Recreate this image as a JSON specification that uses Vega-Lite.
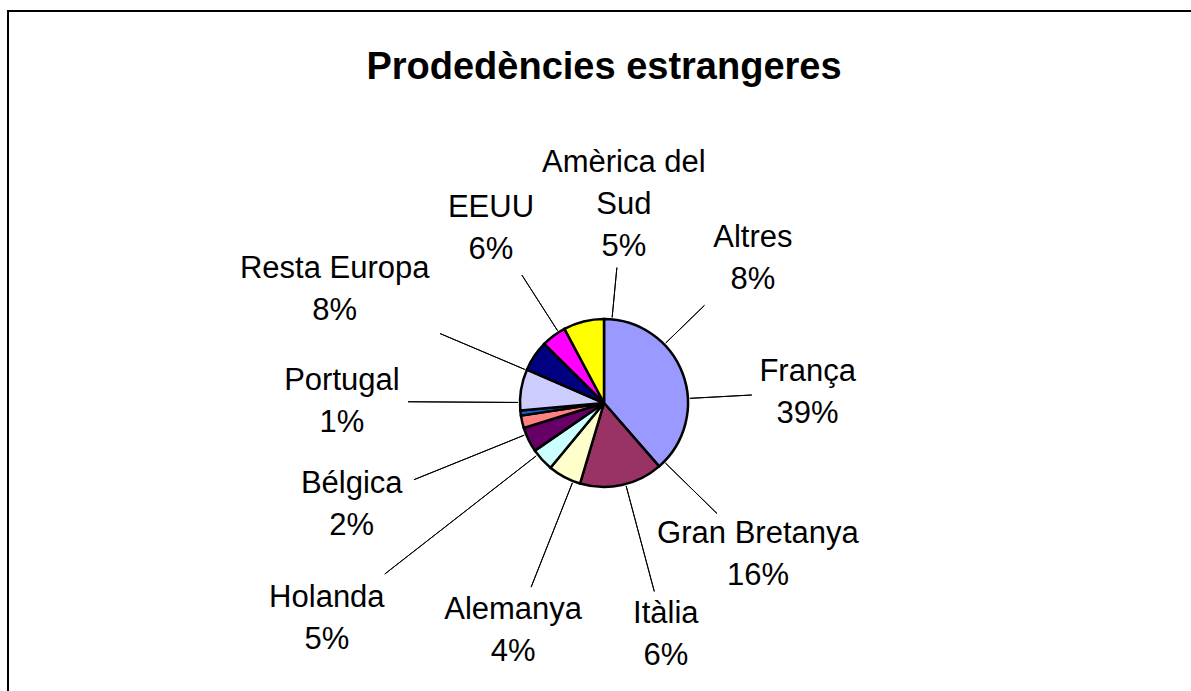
{
  "$schema": "https://vega.github.io/schema/vega-lite/v6.json",
  "autosize": {"type": "none"},
  "padding": {"left": 8, "top": 11, "right": -9, "bottom": -104},
  "width": 1192,
  "height": 784,
  "background": "white",
  "view": {"stroke": "black", "strokeWidth": 2},
  "config": {"view": {"stroke": "black", "strokeWidth": 2}, "font": "Liberation Sans"},
  "title": {"text": "Prodedències estrangeres", "fontSize": 38, "fontWeight": "bold", "font": "Liberation Sans", "color": "black", "anchor": "middle", "offset": -106, "baseline": "alphabetic"},
  "data": {"values": [
    {"name": "França", "value": 38.6},
    {"name": "Gran Bretanya", "value": 16.0},
    {"name": "Itàlia", "value": 6.4},
    {"name": "Alemanya", "value": 4.4},
    {"name": "Holanda", "value": 4.8},
    {"name": "Bélgica", "value": 2.4},
    {"name": "Portugal", "value": 1.0},
    {"name": "Resta Europa", "value": 7.9},
    {"name": "EEUU", "value": 5.9},
    {"name": "Amèrica del Sud", "value": 4.8},
    {"name": "Altres", "value": 7.8}
  ]},
  "transform": [
    {"stack": "value", "groupby": [], "offset": "normalize", "as": ["v0", "v1"]},
    {"calculate": "(datum.name == 'Amèrica del Sud' ? 'Amèrica del\\nSud' : datum.name) + '\\n' + format((datum.v1 - datum.v0) * 100, '.0f') + '%'", "as": "label"}
  ],
  "layer": [
    {
      "mark": {"type": "arc", "radius": 84, "stroke": "black", "strokeWidth": 2.5},
      "encoding": {
        "theta": {"field": "v0", "type": "quantitative", "scale": {"domain": [0, 1]}},
        "theta2": {"field": "v1"},
        "color": {"field": "name", "type": "nominal", "legend": null,
          "scale": {"domain": ["França", "Gran Bretanya", "Itàlia", "Alemanya", "Holanda", "Bélgica", "Portugal", "Resta Europa", "EEUU", "Amèrica del Sud", "Altres"],
                    "range": ["#9999FF", "#993366", "#FFFFCC", "#CCFFFF", "#660066", "#FF8080", "#0066CC", "#CCCCFF", "#000080", "#FF00FF", "#FFFF00"]}}
      }
    },
    {"transform": [{"filter": "datum.name == 'França'"}], "mark": {"type": "arc", "radius": 148, "radius2": 86, "thetaOffset": 1.5167, "theta2Offset": 1.5167, "fillOpacity": 0, "stroke": "black", "strokeWidth": 1}, "encoding": {"theta": {"field": "v0", "type": "quantitative"}, "theta2": {"field": "v0"}}},
    {"transform": [{"filter": "datum.name == 'França'"}], "mark": {"type": "text", "radius": 206, "thetaOffset": 1.419, "fontSize": 31, "lineHeight": 42, "lineBreak": "\n", "align": "center", "baseline": "middle", "color": "black"}, "encoding": {"theta": {"field": "v0", "type": "quantitative"}, "text": {"field": "label"}}},

    {"transform": [{"filter": "datum.name == 'Gran Bretanya'"}], "mark": {"type": "arc", "radius": 158, "radius2": 86, "thetaOffset": -0.0803, "theta2Offset": -0.0803, "fillOpacity": 0, "stroke": "black", "strokeWidth": 1}, "encoding": {"theta": {"field": "v0", "type": "quantitative"}, "theta2": {"field": "v0"}}},
    {"transform": [{"filter": "datum.name == 'Gran Bretanya'"}], "mark": {"type": "text", "radius": 202, "thetaOffset": -0.150, "fontSize": 31, "lineHeight": 42, "lineBreak": "\n", "align": "center", "baseline": "middle", "color": "black"}, "encoding": {"theta": {"field": "v0", "type": "quantitative"}, "text": {"field": "label"}}},

    {"transform": [{"filter": "datum.name == 'Itàlia'"}], "mark": {"type": "arc", "radius": 195, "radius2": 86, "thetaOffset": -0.5498, "theta2Offset": -0.5498, "fillOpacity": 0, "stroke": "black", "strokeWidth": 1}, "encoding": {"theta": {"field": "v0", "type": "quantitative"}, "theta2": {"field": "v0"}}},
    {"transform": [{"filter": "datum.name == 'Itàlia'"}], "mark": {"type": "text", "radius": 220, "thetaOffset": -0.574, "fontSize": 31, "lineHeight": 42, "lineBreak": "\n", "align": "center", "baseline": "middle", "color": "black"}, "encoding": {"theta": {"field": "v0", "type": "quantitative"}, "text": {"field": "label"}}},

    {"transform": [{"filter": "datum.name == 'Alemanya'"}], "mark": {"type": "arc", "radius": 198, "radius2": 86, "thetaOffset": -0.3142, "theta2Offset": -0.3142, "fillOpacity": 0, "stroke": "black", "strokeWidth": 1}, "encoding": {"theta": {"field": "v0", "type": "quantitative"}, "theta2": {"field": "v0"}}},
    {"transform": [{"filter": "datum.name == 'Alemanya'"}], "mark": {"type": "text", "radius": 226, "thetaOffset": -0.2775, "fontSize": 31, "lineHeight": 42, "lineBreak": "\n", "align": "center", "baseline": "middle", "color": "black"}, "encoding": {"theta": {"field": "v0", "type": "quantitative"}, "text": {"field": "label"}}},

    {"transform": [{"filter": "datum.name == 'Holanda'"}], "mark": {"type": "arc", "radius": 278, "radius2": 86, "thetaOffset": -0.0593, "theta2Offset": -0.0593, "fillOpacity": 0, "stroke": "black", "strokeWidth": 1}, "encoding": {"theta": {"field": "v0", "type": "quantitative"}, "theta2": {"field": "v0"}}},
    {"transform": [{"filter": "datum.name == 'Holanda'"}], "mark": {"type": "text", "radius": 339, "thetaOffset": -0.0105, "fontSize": 31, "lineHeight": 42, "lineBreak": "\n", "align": "center", "baseline": "middle", "color": "black"}, "encoding": {"theta": {"field": "v0", "type": "quantitative"}, "text": {"field": "label"}}},

    {"transform": [{"filter": "datum.name == 'Bélgica'"}], "mark": {"type": "arc", "radius": 205, "radius2": 86, "thetaOffset": -0.0820, "theta2Offset": -0.0820, "fillOpacity": 0, "stroke": "black", "strokeWidth": 1}, "encoding": {"theta": {"field": "v0", "type": "quantitative"}, "theta2": {"field": "v0"}}},
    {"transform": [{"filter": "datum.name == 'Bélgica'"}], "mark": {"type": "text", "radius": 265, "thetaOffset": -0.010, "fontSize": 31, "lineHeight": 42, "lineBreak": "\n", "align": "center", "baseline": "middle", "color": "black"}, "encoding": {"theta": {"field": "v0", "type": "quantitative"}, "text": {"field": "label"}}},

    {"transform": [{"filter": "datum.name == 'Portugal'"}], "mark": {"type": "arc", "radius": 196, "radius2": 86, "thetaOffset": 0.1571, "theta2Offset": 0.1571, "fillOpacity": 0, "stroke": "black", "strokeWidth": 1}, "encoding": {"theta": {"field": "v0", "type": "quantitative"}, "theta2": {"field": "v0"}}},
    {"transform": [{"filter": "datum.name == 'Portugal'"}], "mark": {"type": "text", "radius": 263, "thetaOffset": 0.2340, "fontSize": 31, "lineHeight": 42, "lineBreak": "\n", "align": "center", "baseline": "middle", "color": "black"}, "encoding": {"theta": {"field": "v0", "type": "quantitative"}, "text": {"field": "label"}}},

    {"transform": [{"filter": "datum.name == 'Resta Europa'"}], "mark": {"type": "arc", "radius": 178, "radius2": 86, "thetaOffset": 0.4887, "theta2Offset": 0.4887, "fillOpacity": 0, "stroke": "black", "strokeWidth": 1}, "encoding": {"theta": {"field": "v0", "type": "quantitative"}, "theta2": {"field": "v0"}}},
    {"transform": [{"filter": "datum.name == 'Resta Europa'"}], "mark": {"type": "text", "radius": 301, "thetaOffset": 0.551, "fontSize": 31, "lineHeight": 42, "lineBreak": "\n", "align": "center", "baseline": "middle", "color": "black"}, "encoding": {"theta": {"field": "v0", "type": "quantitative"}, "text": {"field": "label"}}},

    {"transform": [{"filter": "datum.name == 'EEUU'"}], "mark": {"type": "arc", "radius": 152, "radius2": 86, "thetaOffset": 0.5917, "theta2Offset": 0.5917, "fillOpacity": 0, "stroke": "black", "strokeWidth": 1}, "encoding": {"theta": {"field": "v0", "type": "quantitative"}, "theta2": {"field": "v0"}}},
    {"transform": [{"filter": "datum.name == 'EEUU'"}], "mark": {"type": "text", "radius": 225, "thetaOffset": 0.636, "fontSize": 31, "lineHeight": 42, "lineBreak": "\n", "align": "center", "baseline": "middle", "color": "black"}, "encoding": {"theta": {"field": "v0", "type": "quantitative"}, "text": {"field": "label"}}},

    {"transform": [{"filter": "datum.name == 'Amèrica del Sud'"}], "mark": {"type": "arc", "radius": 136, "radius2": 86, "thetaOffset": 0.8866, "theta2Offset": 0.8866, "fillOpacity": 0, "stroke": "black", "strokeWidth": 1}, "encoding": {"theta": {"field": "v0", "type": "quantitative"}, "theta2": {"field": "v0"}}},
    {"transform": [{"filter": "datum.name == 'Amèrica del Sud'"}], "mark": {"type": "text", "radius": 241, "thetaOffset": 0.874, "fontSize": 31, "lineHeight": 42, "lineBreak": "\n", "align": "center", "baseline": "middle", "color": "black"}, "encoding": {"theta": {"field": "v0", "type": "quantitative"}, "text": {"field": "label"}}},

    {"transform": [{"filter": "datum.name == 'Altres'"}], "mark": {"type": "arc", "radius": 140, "radius2": 86, "thetaOffset": 1.2898, "theta2Offset": 1.2898, "fillOpacity": 0, "stroke": "black", "strokeWidth": 1}, "encoding": {"theta": {"field": "v0", "type": "quantitative"}, "theta2": {"field": "v0"}}},
    {"transform": [{"filter": "datum.name == 'Altres'"}], "mark": {"type": "text", "radius": 222, "thetaOffset": 1.225, "fontSize": 31, "lineHeight": 42, "lineBreak": "\n", "align": "center", "baseline": "middle", "color": "black"}, "encoding": {"theta": {"field": "v0", "type": "quantitative"}, "text": {"field": "label"}}}
  ]
}
